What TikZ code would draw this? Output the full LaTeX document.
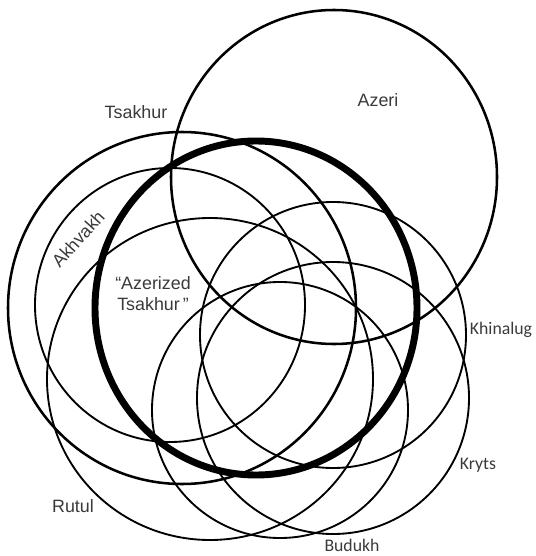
\documentclass[tikz,border=0pt]{standalone}
\usepackage{fontspec}
\setmainfont{Liberation Sans}
\newfontfamily\carlitofont{Carlito}
\definecolor{labelgray}{HTML}{3A3A3A}
\begin{document}
\begin{tikzpicture}[x=0.75pt,y=-0.75pt,
  ring/.style={draw=black, line width=1.4pt},
  outerring/.style={draw=black, line width=1.9pt},
  corering/.style={draw=black, line width=5.2pt},
  lbl/.style={text=labelgray, font=\fontsize{13.4}{15.75}\selectfont, inner sep=0pt},
  clbl/.style={text=labelgray, font=\carlitofont\fontsize{13.3}{15}\selectfont, inner sep=0pt}]
\useasboundingbox (0,0) rectangle (535,556);
% circles
\draw[outerring] (334,177) ellipse [x radius=163, y radius=167]; % Azeri
\draw[outerring] (182,308) ellipse [x radius=174, y radius=176]; % Tsakhur
\draw[ring] (170,305) ellipse [x radius=135, y radius=137]; % Akhvakh
\draw[ring] (210,379) ellipse [x radius=163, y radius=161]; % Rutul
\draw[ring] (280,410) ellipse [x radius=128, y radius=128]; % Budukh
\draw[ring] (333,398) ellipse [x radius=136, y radius=136]; % Kryts
\draw[ring] (333,335) ellipse [x radius=133, y radius=133]; % Khinalug
\draw[corering] (256,308) ellipse [x radius=161, y radius=167]; % Azerized Tsakhur
% labels
\node[lbl] (azeri) at (378,100) {Azeri};
\node[lbl] (tsakhur) at (136,112) {Tsakhur};
\node[lbl, rotate=48] (akhvakh) at (78,239) {Akhvakh};
\node[lbl, align=center] (aztsakhur) at (153,294) {“Azerized\\Tsakhur\,”};
\node[clbl] (khinalug) at (501,330) {Khinalug};
\node[clbl] (kryts) at (478,465) {Kryts};
\node[clbl] (budukh) at (352,545) {Budukh};
\node[lbl] (rutul) at (73,506) {Rutul};
\end{tikzpicture}
\end{document}
